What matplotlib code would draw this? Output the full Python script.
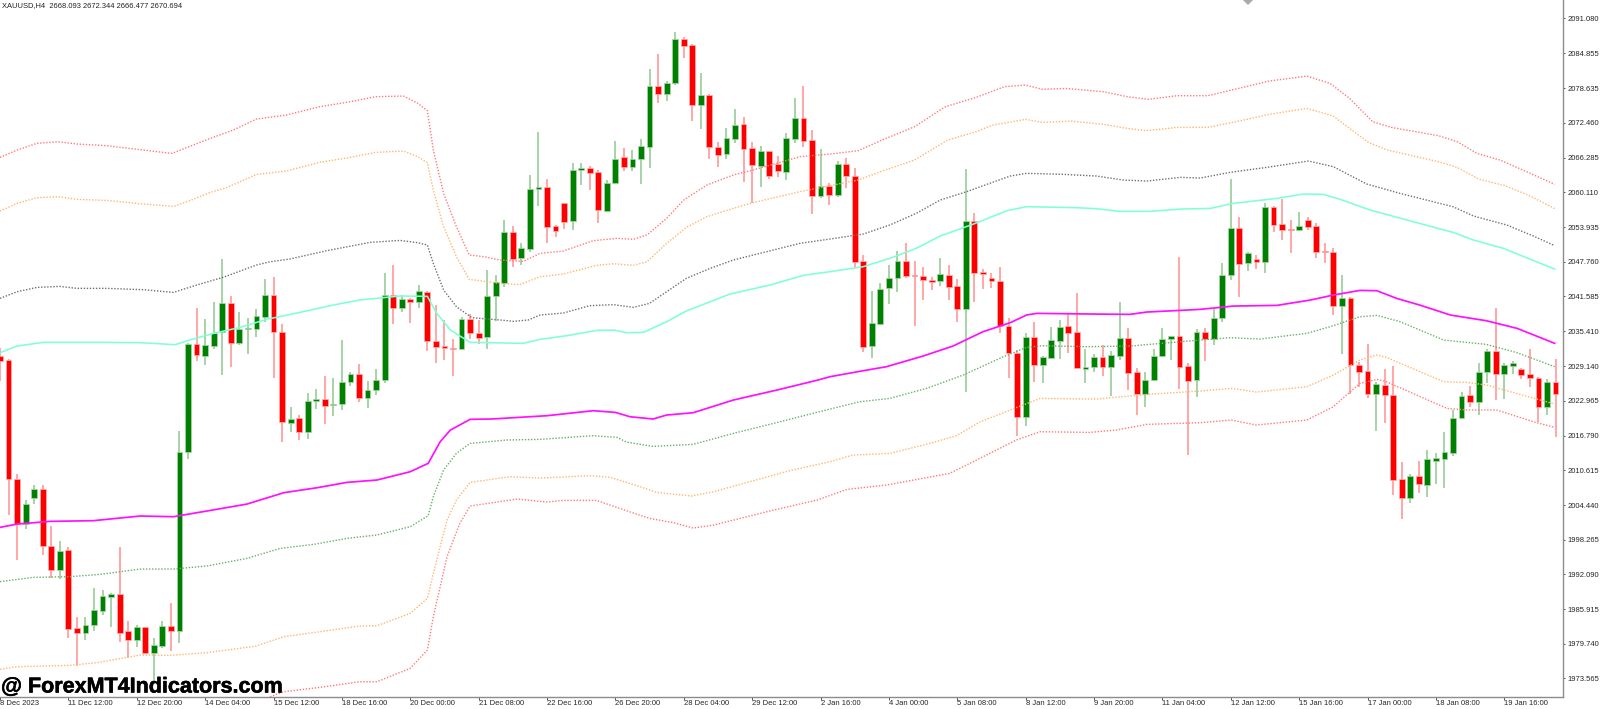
import matplotlib
matplotlib.use("Agg")
import matplotlib.pyplot as plt
import matplotlib.patheffects as pe
import numpy as np

direction = ("RRRGGRRGRR" "GGGGRRGRGG" "RGGRGGGRGG" "GGRRGRGGRG" "GGRGGGRGRG"
             "RRRRGRRGGG" "RGGGRRRGGR" "RGGRGGGRGG" "RRGRRGGRRG" "RRGGRRGRGR"
             "RRGGGGRRRR" "GRRGRRRRRR" "GRGGGRRGGR" "GGRRGGGGRR" "GRGGGRGRGR"
             "RRGRRRRGRR" "RGRRRGRGGG" "GGRGGRGGRR" "RGR")

body_top = [
2030.97,2030.26,2009.07,2004.56,2007.23,2007.23,1997.14,1996.31,1996.43,1982.54,
1983.13,1985.74,1988.24,1988.59,1988.59,1981.94,1982.72,1982.72,1979.45,1982.95,
1982.95,2013.82,2033.05,2033.10,2032.93,2035.00,2040.40,2040.40,2035.78,2035.95,
2038.03,2041.83,2041.83,2035.24,2019.69,2019.99,2023.02,2023.37,2023.31,2022.42,
2026.40,2027.76,2027.76,2024.85,2026.70,2041.89,2041.89,2041.05,2041.11,2042.48,
2042.42,2033.64,2032.69,2032.39,2037.55,2037.55,2035.06,2041.65,2044.14,2052.98,
2052.98,2050.14,2060.76,2061.00,2061.00,2054.11,2058.15,2064.08,2064.38,2064.38,
2063.73,2061.83,2066.04,2066.40,2066.10,2068.30,2079.04,2078.98,2079.51,2087.41,
2087.41,2086.34,2077.44,2077.44,2068.18,2069.72,2072.09,2072.21,2067.94,2067.41,
2067.47,2065.15,2069.72,2073.34,2073.34,2069.37,2061.17,2061.17,2065.21,2065.21,
2063.01,2047.82,2036.78,2042.95,2044.85,2047.82,2047.88,2045.32,2045.27,2044.49,
2045.50,2045.44,2043.37,2054.94,2055.00,2045.92,2044.79,2044.37,2036.30,2031.56,
2034.40,2034.40,2030.72,2033.75,2036.13,2036.24,2035.18,2028.98,2030.72,2030.72,
2031.08,2034.23,2034.23,2028.05,2026.69,2030.96,2033.99,2034.52,2034.52,2029.18,
2035.24,2035.24,2037.73,2045.44,2053.81,2053.81,2049.30,2048.29,2057.55,2057.55,
2054.41,2053.57,2054.11,2055.18,2054.17,2049.66,2049.54,2041.29,2041.29,2029.36,
2028.35,2025.98,2025.80,2024.02,2009.00,2009.60,2009.60,2012.56,2012.74,2013.81,
2019.98,2023.78,2023.96,2028.11,2031.85,2031.85,2029.30,2029.72,2028.71,2027.70,
2027.11,2026.33,2026.27]

body_bottom = [
2030.08,2009.07,2000.99,2000.99,2005.68,1997.08,1992.87,1992.87,1982.36,1981.71,
1981.71,1983.07,1985.57,1988.12,1981.71,1980.40,1980.40,1978.09,1978.03,1979.33,
1981.94,1981.94,2013.82,2031.15,2031.03,2032.75,2035.24,2033.34,2033.22,2035.72,
2035.83,2037.97,2035.24,2019.22,2019.10,2017.50,2017.50,2023.02,2022.07,2022.18,
2022.48,2026.34,2023.55,2023.43,2024.85,2026.70,2039.51,2039.57,2040.52,2040.52,
2033.64,2032.63,2032.39,2032.21,2032.21,2035.00,2034.17,2034.29,2041.59,2044.02,
2048.30,2048.41,2050.02,2060.70,2053.99,2053.16,2054.82,2055.00,2064.02,2063.55,
2056.90,2056.84,2061.77,2064.62,2064.68,2066.04,2068.24,2077.55,2077.61,2079.63,
2086.16,2075.66,2075.66,2068.18,2066.75,2066.87,2069.54,2067.82,2064.97,2064.85,
2062.95,2063.90,2063.73,2069.60,2069.31,2059.45,2059.45,2059.69,2059.63,2063.07,
2047.76,2032.62,2032.74,2036.72,2043.01,2044.85,2045.27,2045.15,2044.43,2044.14,
2044.32,2043.31,2039.33,2039.33,2045.80,2045.56,2044.37,2036.36,2031.50,2020.16,
2020.16,2029.42,2029.42,2030.66,2033.69,2035.12,2028.83,2028.71,2028.94,2028.94,
2028.94,2031.02,2027.88,2024.20,2024.14,2026.69,2030.90,2033.99,2029.06,2026.51,
2026.63,2033.93,2033.93,2037.73,2045.44,2047.34,2047.46,2047.70,2047.76,2054.29,
2053.40,2053.40,2053.34,2053.99,2049.54,2049.54,2039.92,2039.92,2029.30,2028.05,
2024.20,2024.20,2024.08,2008.94,2005.62,2005.62,2008.17,2008.05,2012.33,2012.68,
2013.75,2019.86,2022.83,2022.83,2028.11,2027.82,2027.82,2029.24,2027.58,2027.05,
2021.88,2021.88,2024.26]

wick_high = [
2032.33,2030.37,2009.90,2005.33,2007.94,2007.94,2000.76,1998.03,1996.90,1984.44,
1984.50,1989.72,1989.30,1988.71,1996.96,1983.85,1983.01,1982.78,1980.70,1983.85,
1987.05,2017.67,2033.34,2039.57,2037.56,2040.58,2048.18,2041.65,2038.80,2037.67,
2039.40,2044.62,2045.08,2036.61,2021.89,2020.40,2024.32,2025.03,2027.47,2027.11,
2033.82,2028.18,2029.48,2026.52,2028.59,2045.74,2047.17,2041.83,2041.23,2043.61,
2042.60,2040.05,2037.38,2033.99,2037.85,2038.38,2037.38,2046.28,2045.33,2055.18,
2054.11,2051.03,2063.19,2070.79,2062.42,2054.23,2058.21,2065.27,2065.27,2064.79,
2064.08,2062.30,2069.25,2068.00,2067.64,2069.54,2082.07,2084.68,2079.93,2088.65,
2087.76,2086.52,2081.29,2077.61,2069.07,2071.62,2074.94,2073.58,2069.07,2068.30,
2067.53,2066.52,2070.61,2076.90,2079.04,2071.20,2067.82,2061.71,2065.68,2066.16,
2064.38,2048.94,2042.53,2044.02,2047.11,2049.72,2051.14,2047.94,2046.87,2044.97,
2048.41,2047.11,2044.61,2064.20,2056.36,2046.45,2045.68,2046.75,2037.67,2032.03,
2034.98,2037.08,2030.96,2036.07,2037.37,2038.56,2042.12,2032.21,2031.32,2032.92,
2031.85,2040.52,2035.89,2028.77,2028.05,2032.15,2035.89,2034.58,2048.65,2029.66,
2035.71,2035.89,2039.27,2047.46,2062.48,2055.65,2049.42,2048.89,2058.14,2057.67,
2058.86,2055.18,2056.54,2055.77,2054.70,2051.02,2050.19,2045.38,2041.53,2029.95,
2033.10,2026.27,2028.59,2029.18,2012.15,2009.95,2012.27,2014.22,2013.63,2017.49,
2021.35,2024.55,2025.68,2029.77,2032.21,2039.57,2029.77,2030.13,2028.89,2032.21,
2027.28,2026.81,2030.37]

wick_low = [
2026.52,2002.66,1994.65,2000.11,2004.62,1995.54,1991.50,1991.26,1980.70,1975.83,
1980.40,1982.06,1984.85,1982.78,1980.11,1977.14,1979.21,1977.91,1973.28,1978.92,
1978.50,1979.81,2012.63,2030.14,2029.37,2032.16,2027.59,2029.07,2032.93,2031.32,
2034.41,2037.08,2026.99,2015.72,2017.50,2016.01,2016.25,2021.59,2018.86,2020.34,
2021.35,2025.63,2022.72,2021.77,2023.96,2026.22,2036.73,2038.86,2036.78,2039.57,
2031.86,2029.78,2030.25,2027.46,2032.15,2033.93,2033.10,2032.15,2037.26,2043.19,
2046.87,2047.17,2049.54,2057.73,2051.14,2052.21,2053.58,2053.46,2061.41,2060.52,
2054.59,2056.60,2061.59,2063.96,2063.96,2061.53,2064.44,2075.95,2076.37,2079.22,
2084.08,2072.75,2071.32,2065.98,2064.56,2066.04,2068.95,2061.89,2058.15,2061.12,
2062.48,2062.90,2062.30,2068.95,2068.24,2056.25,2059.16,2057.85,2059.33,2060.94,
2046.75,2031.73,2030.66,2036.48,2040.16,2042.42,2044.85,2036.36,2040.93,2042.71,
2043.43,2040.93,2037.07,2024.61,2040.52,2042.95,2043.01,2035.12,2026.99,2016.78,
2018.44,2026.39,2026.21,2030.55,2030.43,2031.44,2028.77,2026.21,2028.17,2027.40,
2023.84,2030.25,2024.91,2020.46,2021.94,2026.57,2030.72,2030.25,2025.03,2013.34,
2023.60,2030.13,2032.92,2037.08,2044.49,2041.53,2046.16,2046.39,2045.80,2052.98,
2051.56,2049.36,2053.28,2053.40,2048.47,2047.46,2038.20,2031.38,2024.20,2025.50,
2023.48,2017.67,2019.09,2006.21,2001.88,2004.85,2006.51,2005.80,2008.17,2007.52,
2013.16,2019.86,2021.88,2020.46,2026.09,2023.13,2023.31,2027.76,2026.87,2025.50,
2019.15,2020.46,2016.60]

red_up_bars = [0,2,4.3,6.8,9,12.5,16.8,20.1,21.8,24.6,27.3,30,33.5,37.4,41,43.9,47.2,48.9,50,50.7,51.9,53.4,54.9,56.6,58.5,61.2,63.2,65.9,69.4,72.2,74.1,75.7,78,80,82.7,85.8,88.1,93.6,97.1,100.4,103.2,107,110.6,114.2,117.5,120,122,124.7,129.1,131.9,134.4,137.7,141.3,144.6,148.5,152.9,155.6,157.9,160.6,162.8,168.3,170.5,172.8,175.5,178.8,181.9]
red_up_vals = [2066.33,2067.64,2068.82,2069.12,2068.71,2068.41,2067.64,2067.04,2068.05,2069.71,2071.20,2073.16,2073.87,2075.35,2076.24,2077.13,2077.25,2075.95,2074.65,2067.64,2059.93,2053.99,2048.95,2048.65,2048.06,2047.82,2049.25,2049.66,2051.50,2051.92,2051.74,2052.51,2055.48,2058.74,2061.41,2063.19,2064.08,2066.46,2066.92,2067.52,2069.42,2071.79,2075.35,2077.01,2078.91,2079.21,2078.44,2078.61,2078.02,2077.13,2076.66,2077.31,2077.31,2078.50,2079.92,2080.81,2079.51,2076.84,2072.68,2071.67,2070.19,2069.12,2067.04,2065.86,2063.66,2061.52]

orange_up_bars = [0,2,4.3,6.8,9,12.5,16.8,20.3,22.2,24.6,26.5,30,33.5,37.4,41,43.9,47.2,48.9,50,50.7,51.9,53.4,54.9,58.5,60.8,63.2,65.9,69.8,71.8,74.1,75.7,78,80.3,82.7,85.8,88.1,93.6,97.1,100.4,103.2,107,110.9,114.2,116.2,120,122,125.3,129.1,131.9,134.1,137.7,141.3,144.6,148.5,152.9,155.9,157.9,160.1,162.3,168.3,170.5,173,176.1,178.8,182]
orange_up_vals = [2056.78,2058.14,2059.15,2059.33,2058.85,2058.67,2058.02,2057.61,2058.62,2060.10,2060.93,2063.30,2063.90,2065.44,2066.33,2067.22,2067.46,2066.45,2065.39,2060.52,2053.99,2048.65,2044.61,2043.90,2043.67,2045.09,2045.56,2047.11,2047.40,2047.11,2047.76,2051.03,2053.87,2055.77,2057.26,2058.27,2060.23,2061.29,2062.29,2063.90,2065.86,2069.42,2070.90,2072.09,2073.10,2072.56,2072.80,2072.21,2071.49,2071.08,2071.67,2071.67,2072.68,2073.99,2075.05,2073.75,2071.49,2069.00,2067.64,2065.56,2064.55,2062.47,2061.29,2059.62,2057.14]

black_bars = [0,2,4.3,7,9,12.5,16.8,20.3,23,26.1,30,31.6,33.9,38.2,43.3,46.8,48.9,50,50.7,51.9,53.4,55.2,58.5,60.1,61.8,63.2,65.9,69,71.8,74.1,76,78,80.3,83.1,85.8,89.7,93.6,97.1,101,104.1,107.2,110,113.1,115.8,118.2,120.1,124.4,128.3,131.4,134.2,138.1,140.4,143.9,148.2,153.1,156,159.9,163.8,170,172.4,176.3,179.4,181.9]
black_vals = [2041.23,2042.41,2043.18,2043.36,2043.01,2043.01,2042.77,2042.29,2043.60,2044.97,2047.16,2047.75,2048.23,2049.71,2051.20,2051.55,2051.14,2050.73,2047.46,2042.72,2039.75,2037.79,2037.38,2037.14,2037.38,2038.27,2038.62,2039.93,2040.11,2039.63,2040.34,2042.42,2044.79,2046.57,2048.06,2049.54,2051.03,2051.79,2052.68,2054.29,2056.36,2058.74,2060.22,2061.71,2063.01,2063.49,2063.31,2063.01,2062.30,2062.12,2062.77,2062.65,2063.66,2064.55,2065.68,2064.67,2061.59,2059.92,2057.55,2055.89,2054.29,2052.33,2050.61]

aqua_bars = [0,2,5.1,11.7,16.4,20.5,22.2,25,28.1,31.2,35.1,39,42.1,46.8,50,51.1,52.7,55,61.2,63.2,66.3,69.8,71.8,73.3,75.3,78,80.3,85.4,90.1,94,97.1,101,104.1,107.2,110,113.9,117.8,120.1,126,128.3,131,134.5,138.1,141.6,144.3,149.4,152.5,154.8,156.8,160.3,164.6,170,172.4,175.9,181.9]
aqua_vals = [2031.56,2032.75,2033.40,2033.40,2033.34,2032.99,2033.82,2035.00,2036.07,2037.50,2038.74,2040.05,2040.94,2041.65,2041.59,2038.56,2035.60,2033.40,2033.22,2033.93,2034.58,2035.53,2035.59,2035.12,2035.18,2037.08,2038.98,2042.00,2043.61,2045.33,2045.98,2046.87,2048.35,2050.13,2052.33,2054.46,2056.84,2057.55,2057.37,2057.19,2056.72,2056.72,2057.13,2057.25,2058.14,2059.03,2059.81,2059.75,2058.86,2056.96,2055.18,2052.98,2051.62,2050.13,2046.45]

magenta_bars = [0,2,5.9,10.9,16.4,20.3,24.2,28.9,33.2,37.1,40.6,44.1,48,50.1,51.5,52.7,55,57.5,64,69.4,72,73.7,76.4,78,81.1,85.8,90.9,95.7,97.1,101,103.7,108,111.5,115,118.2,120.1,121.3,127.9,132.2,134.2,138.1,140.4,144.3,149.4,153.3,156,159.1,161.1,163.4,166.1,169.7,173.9,177.5,181.9]
magenta_vals = [2000.46,2001.05,2001.53,2001.65,2002.48,2002.36,2003.37,2004.61,2006.63,2007.52,2008.47,2008.89,2010.37,2011.86,2015.71,2017.79,2019.69,2019.75,2020.34,2021.23,2020.93,2020.16,2019.75,2020.46,2020.87,2023.13,2024.91,2026.69,2027.28,2028.35,2029.06,2030.96,2032.74,2035.29,2036.90,2038.26,2038.56,2038.44,2038.38,2038.80,2039.09,2039.27,2039.86,2039.98,2040.93,2041.82,2042.65,2042.59,2041.23,2040.04,2038.26,2037.25,2035.89,2033.22]

green_bars = [0,3.9,8.2,11.7,16.4,20.3,24.2,28.9,32.8,36.7,40.6,44.1,48,50.1,50.7,51.9,53.4,55,59.3,63.2,69.4,72.2,73.3,76.4,81.1,85.8,90.5,97.1,100.6,104.1,108.4,112.7,117.4,120.1,122.1,127.1,132.2,140.4,143.9,147.4,152.9,156,159.1,161.1,163.8,168.9,173.9,177.5,181.9]
green_vals = [1990.79,1991.56,1991.68,1992.09,1993.04,1993.04,1993.58,1994.94,1996.72,1997.43,1998.50,1999.10,2000.58,2002.54,2005.92,2010.67,2013.64,2015.41,2016.01,2016.13,2016.78,2016.48,2015.65,2014.88,2015.24,2017.19,2018.97,2021.52,2022.83,2023.42,2025.20,2027.58,2030.84,2032.50,2032.80,2032.62,2032.74,2033.81,2034.23,2033.99,2035.00,2036.36,2037.96,2038.20,2037.08,2033.81,2033.04,2031.56,2029.06]

orange_low_bars = [0,2,8.2,11.3,16.4,19.9,24.2,30,33.2,37.4,42.1,44.1,48,50,50.7,52.3,53.4,55,59.7,63.2,69,71.4,74.9,76.8,80.9,83.5,92.4,97.1,99.8,104.1,108.8,111.9,114.7,118.2,121.7,128.3,134.2,140.4,144.1,147,152.9,156,159.1,161.1,162.2,168.9,171.6,173.9,181.9]
orange_low_vals = [1975.18,1975.65,1975.89,1976.37,1977.73,1977.67,1978.15,1979.33,1981.00,1981.88,1982.89,1982.95,1985.15,1987.82,1992.27,2001.77,2005.33,2008.47,2009.48,2009.24,2009.66,2009.36,2007.70,2006.69,2006.04,2006.81,2010.55,2012.15,2013.33,2013.63,2015.41,2016.78,2019.27,2021.35,2023.42,2023.30,2024.14,2024.73,2025.21,2024.55,2025.50,2027.58,2030.25,2031.14,2030.73,2026.39,2026.27,2025.80,2022.42]

red_low_bars = [31.6,33.2,37.4,42.1,44.1,48,50,50.7,52.3,53.8,55,60.5,64,65.9,69.8,72.5,76,78.8,81.1,83.5,90.5,95.6,99.1,103.7,111.1,112.7,118.9,121.7,127.5,130.6,134.2,140.4,144.1,147,152.9,156,159.1,161.1,162.2,169.3,171.6,175.1,179.8,181.9]
red_low_vals = [1970.31,1971.20,1971.97,1972.98,1972.98,1975.36,1978.62,1984.55,1995.24,2001.17,2004.26,2005.50,2004.97,2005.26,2005.26,2003.84,2002.06,2001.29,2000.34,2000.87,2003.54,2005.32,2007.22,2007.99,2010.07,2011.26,2016.01,2017.49,2017.37,2017.79,2018.80,2019.09,2019.57,2018.68,2019.57,2021.94,2026.09,2026.81,2026.39,2021.64,2021.35,2021.35,2019.09,2018.26]

price_ticks = [1973.565,1979.740,1985.915,1992.090,1998.265,2004.440,2010.615,2016.790,
               2022.965,2029.140,2035.410,2041.585,2047.760,2053.935,2060.110,2066.285,
               2072.460,2078.635,2084.855,2091.080]
time_ticks = [0,8,16,24,32,40,48,56,64,72,80,88,96,104,112,120,128,136,144,152,160,168,176]
time_labels = ["8 Dec 2023","11 Dec 12:00","12 Dec 20:00","14 Dec 04:00","15 Dec 12:00",
               "18 Dec 16:00","20 Dec 00:00","21 Dec 08:00","22 Dec 16:00","26 Dec 20:00",
               "28 Dec 04:00","29 Dec 12:00","2 Jan 16:00","4 Jan 00:00","5 Jan 08:00",
               "8 Jan 12:00","9 Jan 20:00","11 Jan 04:00","12 Jan 12:00","15 Jan 16:00",
               "17 Jan 00:00","18 Jan 08:00","19 Jan 16:00"]
header = "XAUUSD,H4  2668.093 2672.344 2666.477 2670.694"
watermark = "@ ForexMT4Indicators.com"
trade_mark_bar = 146
trade_mark_price = 2094.35

W, H = 1600, 709
fig = plt.figure(figsize=(W / 100, H / 100), dpi=100, facecolor="white")
ax = fig.add_axes([0, 12 / H, 1563 / W, 697 / H])
ax.set_xlim(0, 182.87)
ax.set_ylim(1970.26, 2094.35)

idx = np.arange(len(direction))
up = np.array([c == "G" for c in direction])
top = np.array(body_top)
bot = np.array(body_bottom)
hi = np.array(wick_high)
lo = np.array(wick_low)
GREEN, RED = "#008000", "#ff0000"
WG, WR = "#8fc88f", "#ff9090"
EG, ER = "#a9d6a9", "#ffb0b0"

ax.vlines(idx[up], lo[up], hi[up], colors=WG, linewidth=1.1, zorder=2)
ax.vlines(idx[~up], lo[~up], hi[~up], colors=WR, linewidth=1.1, zorder=2)
ax.bar(idx[up], top[up] - bot[up], bottom=bot[up], width=0.68, color=GREEN,
       edgecolor=EG, linewidth=0.5, zorder=3)
ax.bar(idx[~up], top[~up] - bot[~up], bottom=bot[~up], width=0.68, color=RED,
       edgecolor=ER, linewidth=0.5, zorder=3)

dot = (0, (1.0, 1.2))
for xs, ys, c in [(red_up_bars, red_up_vals, "#ff7a7a"),
                  (orange_up_bars, orange_up_vals, "#ffb66e"),
                  (black_bars, black_vals, "#707070"),
                  (green_bars, green_vals, "#68b068"),
                  (orange_low_bars, orange_low_vals, "#ffb66e"),
                  (red_low_bars, red_low_vals, "#ff7a7a")]:
    ax.plot(xs, ys, color=c, lw=1.0, linestyle=dot, zorder=4)
ax.plot(aqua_bars, aqua_vals, color="#7fffd4", lw=1.15, zorder=4)
ax.plot(magenta_bars, magenta_vals, color="#ff10ff", lw=1.25, zorder=4)
ax.plot([trade_mark_bar], [trade_mark_price], marker="D", ms=5, color="#a8a8a8",
        mew=0, linestyle="none", zorder=5)

for side in ["top", "left"]:
    ax.spines[side].set_visible(False)
for side in ["right", "bottom"]:
    ax.spines[side].set_color("#8c8c8c")
    ax.spines[side].set_linewidth(1.0)

ax.yaxis.tick_right()
ax.set_yticks(price_ticks)
ax.set_yticklabels([f"{v:.3f}" for v in price_ticks], family="Liberation Sans", fontsize=5.5, color="#262626")
ax.tick_params(axis="y", length=1.5, width=0.7, color="#555555", pad=1.5)
ax.set_xticks(time_ticks)
ax.set_xticklabels(time_labels, family="Liberation Sans", fontsize=5.5, color="#262626", ha="left")
ax.tick_params(axis="x", length=2, width=0.7, color="#555555", pad=0.5)

fig.text(2 / W, 1 - 5.5 / H, header, family="Liberation Sans", fontsize=5.4, color="#202020", va="center", ha="left")
fig.text(1 / W, 1 - 687 / H, watermark, family="Liberation Sans", fontweight="bold", fontsize=15.5,
         color="black", va="center", ha="left", zorder=10,
         path_effects=[pe.withStroke(linewidth=0.4, foreground="black")])

fig.savefig("out.png", dpi=100, facecolor="white")
